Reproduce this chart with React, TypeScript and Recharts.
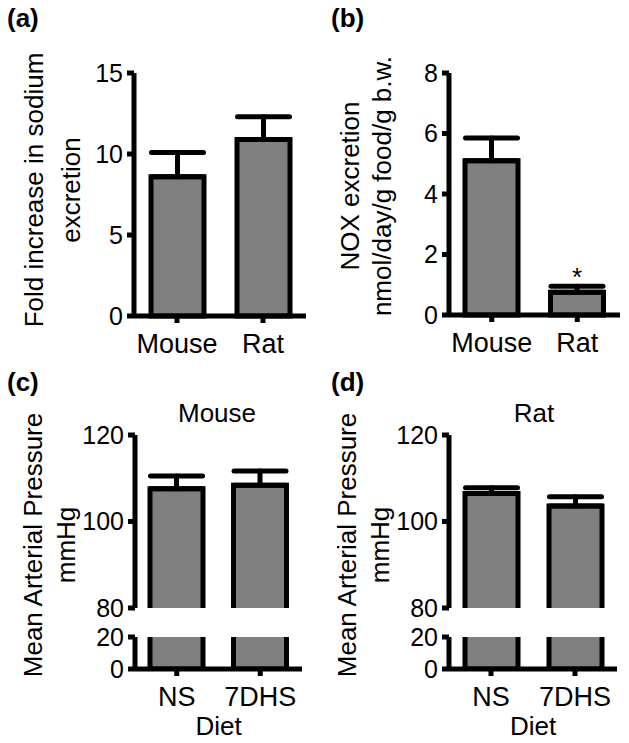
import { BarChart, Bar, XAxis, YAxis, ErrorBar, LabelList } from 'recharts';

// (a) sodium excretion
const speciesCats = ['Mouse', 'Rat'];
const sodiumMean = [8.6, 10.9];
const sodiumSem = [1.5, 1.4];

// (b) NOX excretion
const noxMean = [5.1, 0.75];
const noxSem = [0.75, 0.2];
const noxSig = ['', '*'];

// (c), (d) mean arterial pressure
const dietCats = ['NS', '7DHS'];
const mouseMapMean = [107.6, 108.4];
const mouseMapSem = [2.9, 3.3];
const ratMapMean = [106.5, 103.6];
const ratMapSem = [1.3, 2.1];

const sodiumTicks = [0, 5, 10, 15];
const noxTicks = [0, 2, 4, 6, 8];
const mapTopTicks = [80, 100, 120];
const mapBottomTicks = [0, 20];

const FONT = '"Liberation Sans", Arial, Helvetica, sans-serif';
const GRAY = '#808080';
const LW = 5;
const YW = 70;
const PAD = 15;
const XH = 74;

const rows = (cats: string[], mean: number[], sem: number[], sig?: string[]) =>
  cats.map((name, i) => ({ name, value: mean[i], err: [0, sem[i]], sig: sig ? sig[i] : '' }));

const sodiumData = rows(speciesCats, sodiumMean, sodiumSem);
const noxData = rows(speciesCats, noxMean, noxSem, noxSig);
const mouseData = rows(dietCats, mouseMapMean, mouseMapSem);
const ratData = rows(dietCats, ratMapMean, ratMapSem);

const axisLine = { stroke: '#000', strokeWidth: LW };
const tickLine = { stroke: '#000', strokeWidth: LW };
const yTickStyle = { fill: '#000', fontSize: 25, fontFamily: FONT };
const xTickStyle = { fill: '#000', fontSize: 27, fontFamily: FONT };

type Box = { left: number; right: number; top: number; bottom: number; axis: boolean };

function frame(b: Box) {
  return {
    pos: { position: 'absolute' as const, left: b.left - YW, top: b.top - PAD },
    width: b.right - b.left + YW + PAD,
    height: b.bottom - b.top + PAD + XH,
    margin: { top: PAD, right: PAD, bottom: b.axis ? 0 : XH, left: 0 },
  };
}

// upper part of a broken bar: open at the bottom
function TopSeg(p: any) {
  const { x, y, width, height } = p;
  const b = y + height;
  return (
    <g>
      <rect x={x} y={y} width={width} height={height} fill={GRAY} />
      <path d={`M${x},${b}V${y}H${x + width}V${b}`} fill="none" stroke="#000" strokeWidth={LW} />
    </g>
  );
}

// lower part of a broken bar: open at the top
function BottomSeg(p: any) {
  const { x, y, width, height, background } = p;
  const b = y + height;
  const t = background ? Math.max(y, background.y) : y;
  return (
    <g>
      <rect x={x} y={t} width={width} height={b - t} fill={GRAY} />
      <path d={`M${x},${t}V${b}H${x + width}V${t}`} fill="none" stroke="#000" strokeWidth={LW} />
    </g>
  );
}

function SimplePanel({ data, box, domain, ticks, sig }: any) {
  const f = frame(box);
  return (
    <div style={f.pos}>
      <BarChart width={f.width} height={f.height} data={data} margin={f.margin}>
        <XAxis dataKey="name" height={XH} axisLine={axisLine} tickLine={tickLine} tickSize={7} tickMargin={11} tick={xTickStyle} interval={0} />
        <YAxis type="number" domain={domain} ticks={ticks} width={YW} axisLine={axisLine} tickLine={tickLine} tickSize={7} tickMargin={4} tick={yTickStyle} interval={0} />
        <Bar dataKey="value" fill={GRAY} stroke="#000" strokeWidth={LW} barSize={53} isAnimationActive={false}>
          <ErrorBar dataKey="err" width={26} strokeWidth={LW} stroke="#000" strokeLinecap="round" direction="y" isAnimationActive={false} />
          {sig && <LabelList dataKey="sig" position="top" offset={6} fill="#000" fontSize={26} fontFamily={FONT} />}
        </Bar>
      </BarChart>
    </div>
  );
}

function BrokenPanel({ data, left, right }: any) {
  const top = frame({ left, right, top: 435, bottom: 608, axis: false });
  const bot = frame({ left, right, top: 637, bottom: 669, axis: true });
  return (
    <>
      <div style={top.pos}>
        <BarChart width={top.width} height={top.height} data={data} margin={top.margin}>
          <XAxis dataKey="name" hide />
          <YAxis type="number" domain={[80, 120]} ticks={mapTopTicks} allowDataOverflow width={YW} axisLine={axisLine} tickLine={tickLine} tickSize={7} tickMargin={4} tick={yTickStyle} interval={0} />
          <Bar dataKey="value" shape={TopSeg} barSize={53} isAnimationActive={false}>
            <ErrorBar dataKey="err" width={26} strokeWidth={LW} stroke="#000" strokeLinecap="round" direction="y" isAnimationActive={false} />
          </Bar>
        </BarChart>
      </div>
      <div style={bot.pos}>
        <BarChart width={bot.width} height={bot.height} data={data} margin={bot.margin}>
          <XAxis
            dataKey="name"
            height={XH}
            axisLine={axisLine}
            tickLine={tickLine}
            tickSize={7}
            tickMargin={11}
            tick={xTickStyle}
            interval={0}
            label={{ value: 'Diet', position: 'insideBottom', offset: 8, fill: '#000', fontSize: 26, fontFamily: FONT }}
          />
          <YAxis type="number" domain={[0, 20]} ticks={mapBottomTicks} allowDataOverflow width={YW} axisLine={axisLine} tickLine={tickLine} tickSize={7} tickMargin={4} tick={yTickStyle} interval={0} />
          <Bar dataKey="value" shape={BottomSeg} barSize={53} isAnimationActive={false} />
        </BarChart>
      </div>
    </>
  );
}

function YLabel({ x1, x2, cy, lines }: { x1: number; x2: number; cy: number; lines: string[] }) {
  return (
    <>
      <text x={x1} y={cy} transform={`rotate(-90 ${x1} ${cy})`} textAnchor="middle" fontSize={26}>{lines[0]}</text>
      <text x={x2} y={cy} transform={`rotate(-90 ${x2} ${cy})`} textAnchor="middle" fontSize={26}>{lines[1]}</text>
    </>
  );
}

export default function App() {
  return (
    <div style={{ position: 'absolute', left: 0, top: 0, width: 629, height: 743, background: '#fff', fontFamily: FONT }}>
      <SimplePanel data={sodiumData} box={{ left: 134, right: 306, top: 73, bottom: 316, axis: true }} domain={[0, 15]} ticks={sodiumTicks} />
      <SimplePanel data={noxData} box={{ left: 449, right: 620, top: 73, bottom: 315, axis: true }} domain={[0, 8]} ticks={noxTicks} sig />
      <BrokenPanel data={mouseData} left={135} right={302} />
      <BrokenPanel data={ratData} left={449} right={617} />
      <svg width={629} height={743} style={{ position: 'absolute', left: 0, top: 0, pointerEvents: 'none' }} fontFamily={FONT} fill="#000">
        <text x={7} y={27} fontSize={26} fontWeight="bold">(a)</text>
        <text x={331} y={27} fontSize={26} fontWeight="bold">(b)</text>
        <text x={7} y={391} fontSize={26} fontWeight="bold">(c)</text>
        <text x={331} y={391} fontSize={26} fontWeight="bold">(d)</text>
        <YLabel x1={43} x2={80} cy={190} lines={['Fold increase in sodium', 'excretion']} />
        <YLabel x1={359} x2={391} cy={186} lines={['NOX excretion', 'nmol/day/g food/g b.w.']} />
        <YLabel x1={42} x2={75} cy={545} lines={['Mean Arterial Pressure', 'mmHg']} />
        <YLabel x1={356} x2={389} cy={545} lines={['Mean Arterial Pressure', 'mmHg']} />
        <text x={217} y={422} fontSize={26} textAnchor="middle">Mouse</text>
        <text x={534} y={422} fontSize={26} textAnchor="middle">Rat</text>
      </svg>
    </div>
  );
}
